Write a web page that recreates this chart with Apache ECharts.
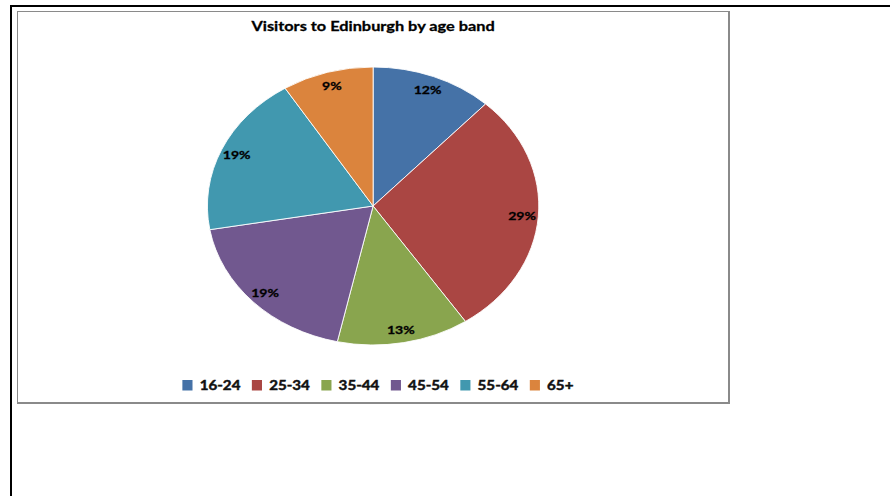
<!DOCTYPE html>
<html>
<head>
<meta charset="utf-8">
<script src="https://cdn.jsdelivr.net/npm/echarts@6/dist/echarts.min.js"></script>
<style>
  html, body { margin: 0; padding: 0; background: #fff; }
  body { width: 890px; height: 496px; position: relative; overflow: hidden; }
  #sheet { position: absolute; left: 10px; top: 5px; width: 890px; height: 500px;
           border-top: 2px solid #000; border-left: 2px solid #000; box-sizing: border-box; }
  #frame { position: absolute; left: 17px; top: 11px; width: 713px; height: 393px;
           border: 1px solid #8a8a8a; border-right-width: 2px; border-bottom-width: 2px;
           box-sizing: border-box; }
  /* the chart is laid out narrow and widened as a whole */
  #chart { position: absolute; left: 0; top: 0; width: 747px; height: 496px;
           transform-origin: 0 0; transform: scaleX(1.192); }
</style>
</head>
<body>
<div id="sheet"></div>
<div id="frame"></div>
<div id="chart"></div>
<script>
const titleText = 'Visitors to Edinburgh by age band';
const ageBands = ['16-24', '25-34', '35-44', '45-54', '55-64', '65+'];
const sharePercent = [12, 29, 13, 19, 19, 9];
const bandColors = ['#4572A7', '#AA4643', '#89A54E', '#71588F', '#4198AF', '#DB843D'];

const FONT = 'Lato, "Open Sans", sans-serif';
const cx = 313, cy = 206, R = 139;

const slices = ageBands.map((name, i) => ({
  name, value: sharePercent[i], itemStyle: { color: bandColors[i] }
}));

const chart = echarts.init(document.getElementById('chart'), null, { renderer: 'svg' });
chart.setOption({
  animation: false,
  backgroundColor: 'transparent',
  title: {
    text: titleText,
    left: cx, top: 19, padding: 0, textAlign: 'center',
    textStyle: { fontFamily: FONT, fontWeight: 'bold', fontSize: 13.7, color: '#000',
                 textBorderColor: '#000', textBorderWidth: 0.3 }
  },
  legend: {
    data: ageBands,
    left: 151, top: 378, padding: 0,
    icon: 'rect', itemWidth: 10.5, itemHeight: 12.5, itemGap: 7.4,
    symbolKeepAspect: false,
    selectedMode: false,
    textStyle: { fontFamily: FONT, fontWeight: 'bold', fontSize: 12.7, color: '#111',
                 textBorderColor: '#111', textBorderWidth: 0.45 }
  },
  series: [
    {
      type: 'pie',
      center: [cx, cy], radius: [0, R],
      startAngle: 90, clockwise: true,
      avoidLabelOverlap: false,
      label: { show: false }, labelLine: { show: false },
      itemStyle: { borderColor: '#ffffff', borderWidth: 0.8 },
      emphasis: { disabled: true },
      data: slices
    },
    {
      // label ring, sits near the rim of the slices
      type: 'pie',
      center: [cx, cy], radius: [R * 0.76, R],
      startAngle: 90, clockwise: true,
      silent: true, legendHoverLink: false,
      avoidLabelOverlap: false,
      itemStyle: { color: 'rgba(0,0,0,0)' },
      label: {
        show: true, position: 'inside', formatter: '{c}%',
        fontFamily: FONT, fontWeight: 'bold', fontSize: 11.8, color: '#000',
        textBorderColor: '#000', textBorderWidth: 0.3
      },
      labelLine: { show: false },
      emphasis: { disabled: true },
      data: ageBands.map((name, i) => ({ name, value: sharePercent[i] }))
    }
  ]
});
</script>
</body>
</html>
